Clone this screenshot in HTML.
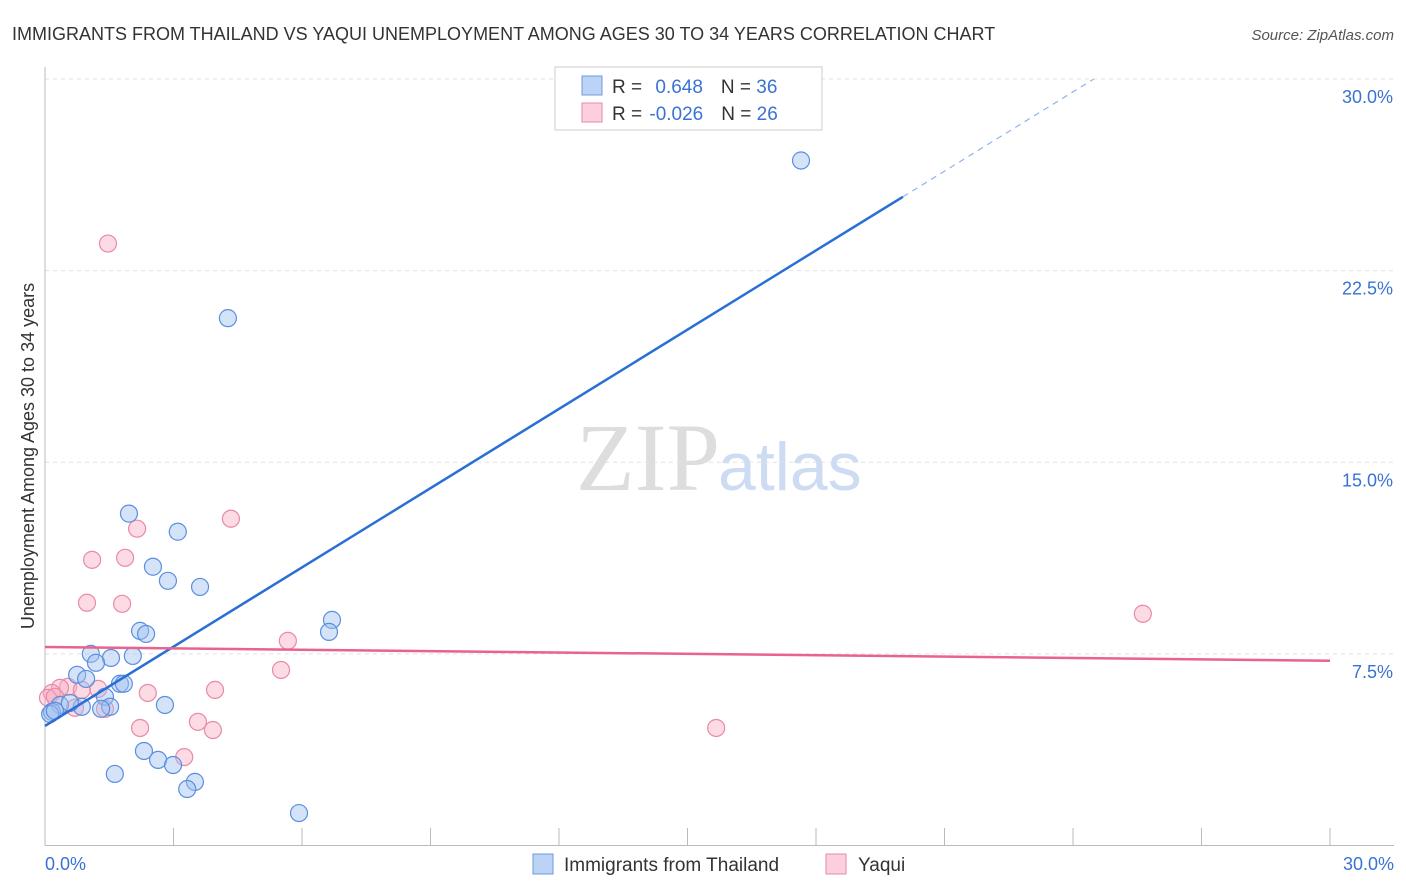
<!DOCTYPE html>
<html><head><meta charset="utf-8">
<style>
body{margin:0;background:#fff;font-family:"Liberation Sans",sans-serif;}
#c{position:relative;width:1406px;height:892px;overflow:hidden}
</style></head><body>
<div id="c">
<svg id="s" width="1406" height="892" xmlns="http://www.w3.org/2000/svg">
<text x="12" y="40" font-size="18" fill="#333">IMMIGRANTS FROM THAILAND VS YAQUI UNEMPLOYMENT AMONG AGES 30 TO 34 YEARS CORRELATION CHART</text>
<text x="1394" y="40" font-size="15" fill="#555" font-style="italic" text-anchor="end">Source: ZipAtlas.com</text>
<text x="720" y="490" font-size="96" fill="#ddd" text-anchor="end" font-family="Liberation Serif,serif">ZIP</text>
<text x="718" y="490" font-size="68" fill="#cddcf3">atlas</text>
<text transform="translate(34,456) rotate(-90)" font-size="18" fill="#333" text-anchor="middle">Unemployment Among Ages 30 to 34 years</text>
<g id="grid"></g><g id="pts"></g><g id="trend"></g>
<g>
<rect x="555" y="67" width="267" height="63" fill="#fff" stroke="#ccc"/>
<rect x="582" y="76" width="20" height="19" fill="#bcd3f5" stroke="#6a9be0"/>
<rect x="582" y="103" width="20" height="19" fill="#fbd0dc" stroke="#e88aa8"/>
<text x="612" y="93" font-size="19" fill="#333">R = <tspan fill="#3a72d4" dx="8">0.648</tspan><tspan dx="18" fill="#333">N = </tspan><tspan fill="#3a72d4">36</tspan></text>
<text x="612" y="120" font-size="19" fill="#333">R = <tspan fill="#3a72d4" dx="2">-0.026</tspan><tspan dx="18" fill="#333">N = </tspan><tspan fill="#3a72d4">26</tspan></text>
</g>
<g>
<rect x="533" y="854" width="20" height="20" fill="#bcd3f5" stroke="#6a9be0"/>
<text x="564" y="871" font-size="19" fill="#333">Immigrants from Thailand</text>
<rect x="826" y="854" width="20" height="20" fill="#fbd0dc" stroke="#e88aa8"/>
<text x="858" y="871" font-size="19" fill="#333">Yaqui</text>
</g>
</svg>
</div>
<script>
const yTicks=[7.5,15,22.5,30];
const yTickLabels=["7.5%","15.0%","22.5%","30.0%"];
const xTickLabels=["0.0%","30.0%"];
const blueX=[17.65,4.27,1.96,3.10,2.52,2.87,3.62,6.70,6.63,2.22,2.36,1.07,1.54,2.05,1.19,0.75,0.96,1.75,1.84,1.40,2.80,1.52,1.31,0.86,0.35,0.16,0.12,2.31,2.64,2.99,1.63,3.50,3.32,5.93,0.23,0.58];
const blueY=[26.81,20.64,12.99,12.28,10.91,10.36,10.12,8.83,8.36,8.40,8.28,7.50,7.34,7.42,7.15,6.68,6.52,6.33,6.33,5.82,5.50,5.43,5.35,5.43,5.50,5.23,5.15,3.70,3.35,3.15,2.80,2.49,2.21,1.27,5.27,5.58];
const pinkX=[1.47,4.34,2.15,1.10,1.87,0.98,1.80,5.67,5.51,2.40,3.97,1.24,0.54,0.35,0.16,0.07,2.22,3.57,3.92,3.25,25.63,15.67,1.40,0.70,0.23,0.86];
const pinkY=[23.56,12.79,12.40,11.18,11.26,9.50,9.46,8.01,6.87,5.97,6.09,6.13,6.21,6.17,5.97,5.78,4.60,4.84,4.52,3.46,9.07,4.60,5.35,5.39,5.82,6.09];
const blueTrend=[4.68,1.034]; // intercept, slope
const pinkTrend=[7.77,-0.018];
const X0=45,X1=1330,Y0=845.5,Y1=79;
const sx=v=>X0+v/30*(X1-X0), sy=v=>Y0-v/30*(Y0-Y1);
const NS="http://www.w3.org/2000/svg";
function mk(t,a,p){const e=document.createElementNS(NS,t);for(const k in a)e.setAttribute(k,a[k]);p.appendChild(e);return e;}
const grid=document.getElementById('grid'),pts=document.getElementById('pts'),tr=document.getElementById('trend');
yTicks.forEach((v,i)=>{
 const l=mk('line',{x1:X0,x2:1394,y1:sy(v),y2:sy(v),stroke:'#e2e2e2','stroke-dasharray':'4,4'},grid);
 
 
 const t=mk('text',{x:1393,y:sy(v)+24,'font-size':18,fill:'#3a72d4','text-anchor':'end'},grid);
 t.textContent=yTickLabels[i];
 
 
});
const ax=mk('line',{x1:X0,x2:X0,y1:67,y2:Y0,stroke:'#bbb'},grid);


const bx=mk('line',{x1:X0,x2:1394,y1:Y0,y2:Y0,stroke:'#bbb'},grid);


for(let i=0;i<=10;i++){const x=sx(i*3);const t=mk('line',{x1:x,x2:x,y1:828,y2:Y0,stroke:'#bbb'},grid);
 
 }
[[0,'start',45],[30,'end',1394]].forEach((d,i)=>{const t=mk('text',{x:d[2],y:870,'font-size':18,fill:'#3a72d4','text-anchor':d[1]},grid);t.textContent=xTickLabels[i];
 
 });
function dots(xs,ys,fill,stroke,name){xs.forEach((x,i)=>{const c=mk('circle',{cx:sx(x),cy:sy(ys[i]),r:8.5,fill:fill,stroke:stroke,'stroke-width':1.2},pts);
 
 });}
dots(pinkX,pinkY,'rgba(248,175,198,0.45)','#e88aa8','yaqui-point');
dots(blueX,blueY,'rgba(160,192,240,0.45)','#5a8fe0','thailand-point');
const bEnd=(30-blueTrend[0])/blueTrend[1];
const l1=mk('line',{x1:sx(0),y1:sy(blueTrend[0]),x2:sx(20.03),y2:sy(blueTrend[0]+blueTrend[1]*20.03),stroke:'#2a6fd6','stroke-width':2.5},tr);


const l2=mk('line',{x1:sx(20.03),y1:sy(blueTrend[0]+blueTrend[1]*20.03),x2:sx(bEnd),y2:sy(30),stroke:'#8fb4ea','stroke-width':1.2,'stroke-dasharray':'6,5'},tr);


const l3=mk('line',{x1:sx(0),y1:sy(pinkTrend[0]),x2:sx(30),y2:sy(pinkTrend[0]+pinkTrend[1]*30),stroke:'#e8638e','stroke-width':2.5},tr);


</script>
</body></html>
